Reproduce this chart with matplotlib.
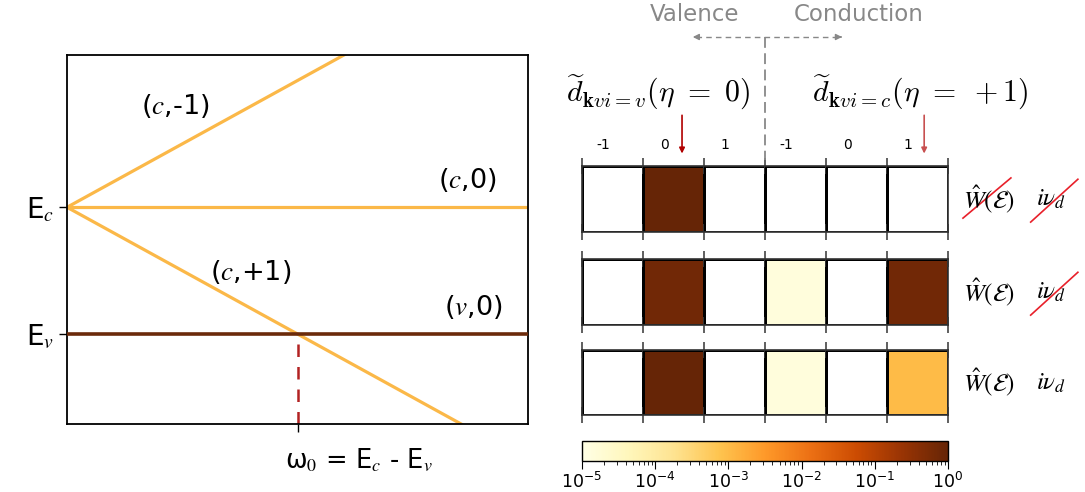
import numpy as np
import matplotlib
matplotlib.use("Agg")
import matplotlib.pyplot as plt
from matplotlib.colors import LogNorm
from matplotlib.lines import Line2D

# band energies and detuning axis for the level diagram
E_c = 1.0
E_v = 0.0
omega0 = E_c - E_v
x_span = [0.0, 2.0]
y_span = [-0.71, 2.2]

# level labels: text, x, y
level_labels = [r"($c$,-1)", r"($c$,0)", r"($c$,+1)", r"($v$,0)"]
level_x = [0.47, 1.735, 0.796, 1.761]
level_y = [1.80, 1.213, 0.488, 0.213]

# weights per Floquet sideband (valence -1,0,1 | conduction -1,0,1), nan = empty
sideband_ticks = ["-1", "0", "1", "-1", "0", "1"]
w_row1 = [np.nan, 1.0, np.nan, np.nan, np.nan, np.nan]
w_row2 = [np.nan, 0.7, np.nan, 1.4e-5, np.nan, 0.7]
w_row3 = [np.nan, 1.0, np.nan, 1.4e-5, np.nan, 1.0e-3]
# which terms are switched off in each row: (W, i nu_d)
struck = [(True, True), (False, True), (False, False)]

yellow = "#fbb848"
brown = "#6b2a0a"
gray = "#888888"

fig = plt.figure(figsize=(10.85, 4.92), dpi=100)

# ---------------- level diagram ----------------
ax = fig.add_axes([0.0618, 0.138, 0.425, 0.75])
xx = np.array(x_span)
ax.plot(xx, E_c + xx * (E_c - E_v) / omega0, color=yellow, lw=2.3, zorder=2)
ax.plot(xx, E_c + 0 * xx, color=yellow, lw=2.3, zorder=2)
ax.plot(xx, E_c - xx * (E_c - E_v) / omega0, color=yellow, lw=2.3, zorder=2)
ax.plot(xx, E_v + 0 * xx, color=brown, lw=2.6, zorder=3)
ax.plot([omega0, omega0], [y_span[0], E_v], color="#b22222", lw=1.8,
        ls=(0, (5, 4)), zorder=1)
ax.set_xlim(x_span)
ax.set_ylim(y_span)
for lab, lx, ly in zip(level_labels, level_x, level_y):
    ax.text(lx, ly, lab, fontsize=19.5, ha="center", va="center",
            math_fontfamily="stix")
ax.set_yticks([E_c, E_v])
ax.set_yticklabels([r"E$_c$", r"E$_v$"], fontsize=20, math_fontfamily="stix")
ax.set_xticks([omega0])
ax.set_xticklabels([""])
ax.annotate(r"ω$_0$ = E$_c$ - E$_v$", xy=(omega0, 0), xycoords=("data", "axes fraction"),
            xytext=(-13, -36), textcoords="offset pixels", ha="left", va="center",
            fontsize=18.5, math_fontfamily="stix")
ax.tick_params(length=6, width=1, direction="out")
for s in ax.spines.values():
    s.set_linewidth(1.3)

# ---------------- sideband weight rows ----------------
cmap = plt.get_cmap("YlOrBr")
norm = LogNorm(vmin=1e-5, vmax=1.0)
row_boxes = [[0.5364, 0.5285, 0.3373, 0.134],
             [0.5364, 0.3394, 0.3373, 0.134],
             [0.5364, 0.1565, 0.3373, 0.132]]
rows = [w_row1, w_row2, w_row3]
row_axes = []
for k, (box, w) in enumerate(zip(row_boxes, rows)):
    rax = fig.add_axes(box)
    data = np.ma.masked_invalid(np.array(w)[None, :])
    rax.pcolormesh(np.arange(7), [0, 1], data, cmap=cmap, norm=norm,
                   edgecolor="k", linewidth=0.9)
    for b in range(7):
        rax.axvline(b, color="k", lw=0.9)
    rax.set_xlim(0, 6)
    rax.set_ylim(0, 1)
    rax.set_xticks(range(7))
    rax.set_xticklabels([])
    rax.set_yticks([])
    rax.tick_params(axis="x", direction="inout", length=11, width=1.2,
                    color="#444444", top=True, bottom=True)
    for s in rax.spines.values():
        s.set_linewidth(1.2)
        s.set_color("#333333")
    rax.text(1.041, 0.5, r"$\hat{W}(\mathcal{E})$", transform=rax.transAxes,
             fontsize=18, ha="left", va="center", math_fontfamily="stix")
    rax.text(1.240, 0.5, r"$i\nu_d$", transform=rax.transAxes,
             fontsize=18, ha="left", va="center", math_fontfamily="stix")
    if struck[k][0]:
        rax.add_line(Line2D([1.041, 1.172], [0.21, 0.82], transform=rax.transAxes,
                            color="#e8202a", lw=1.2, clip_on=False))
    if struck[k][1]:
        rax.add_line(Line2D([1.226, 1.355], [0.15, 0.80], transform=rax.transAxes,
                            color="#e8202a", lw=1.2, clip_on=False))
    row_axes.append(rax)

top = row_axes[0]
for i, lab in enumerate(sideband_ticks):
    top.text(i + 0.35, 1.32, lab, transform=top.get_xaxis_transform(),
             fontsize=10, ha="center", va="center")
for xa, col in [(1.64, "#b00000"), (5.61, "#c85050")]:
    top.annotate("", xy=(xa, 1.19), xycoords=top.get_xaxis_transform(),
                 xytext=(xa, 1.77), textcoords=top.get_xaxis_transform(),
                 arrowprops=dict(arrowstyle="-|>", color=col, lw=1.2,
                                 mutation_scale=8, shrinkA=0, shrinkB=0))

# valence / conduction split
fig.text(0.6406, 0.9715, "Valence", color=gray, fontsize=16.5, ha="center", va="center")
fig.text(0.791, 0.9715, "Conduction", color=gray, fontsize=16.5, ha="center", va="center")
y_arr = 1 - 37 / 492
fig.add_artist(Line2D([765 / 1085, 765 / 1085], [y_arr, 1 - 160 / 492],
                      color=gray, lw=1.3, ls=(0, (6, 3))))
fig.add_artist(Line2D([696 / 1085, 836 / 1085], [y_arr, y_arr],
                      color=gray, lw=1.0, ls=(0, (4, 3))))
for x0, x1 in [(700, 690), (838, 842)]:
    fig.patches.append(matplotlib.patches.FancyArrowPatch(
        (x0 / 1085, y_arr), (x1 / 1085, y_arr), transform=fig.transFigure,
        arrowstyle="-|>", mutation_scale=9, color=gray, lw=1.0))

fig.text(0.6065, 0.811, r"$\widetilde{d}_{\mathbf{k}vi=v}(\eta\ =\ 0)$",
         fontsize=21.5, ha="center", va="center", math_fontfamily="cm")
fig.text(0.848, 0.811, r"$\widetilde{d}_{\mathbf{k}vi=c}(\eta\ =\ +1)$",
         fontsize=21.5, ha="center", va="center", math_fontfamily="cm")

# ---------------- colorbar ----------------
cax = fig.add_axes([0.5364, 0.063, 0.3373, 0.0407])
sm = matplotlib.cm.ScalarMappable(norm=norm, cmap=cmap)
cb = fig.colorbar(sm, cax=cax, orientation="horizontal")
cb.set_ticks([1e-5, 1e-4, 1e-3, 1e-2, 1e-1, 1])
cb.ax.tick_params(labelsize=12.5, length=6, pad=2)
cb.ax.tick_params(which="minor", length=3)
cb.outline.set_linewidth(1.0)

fig.savefig("out.png", dpi=100)
